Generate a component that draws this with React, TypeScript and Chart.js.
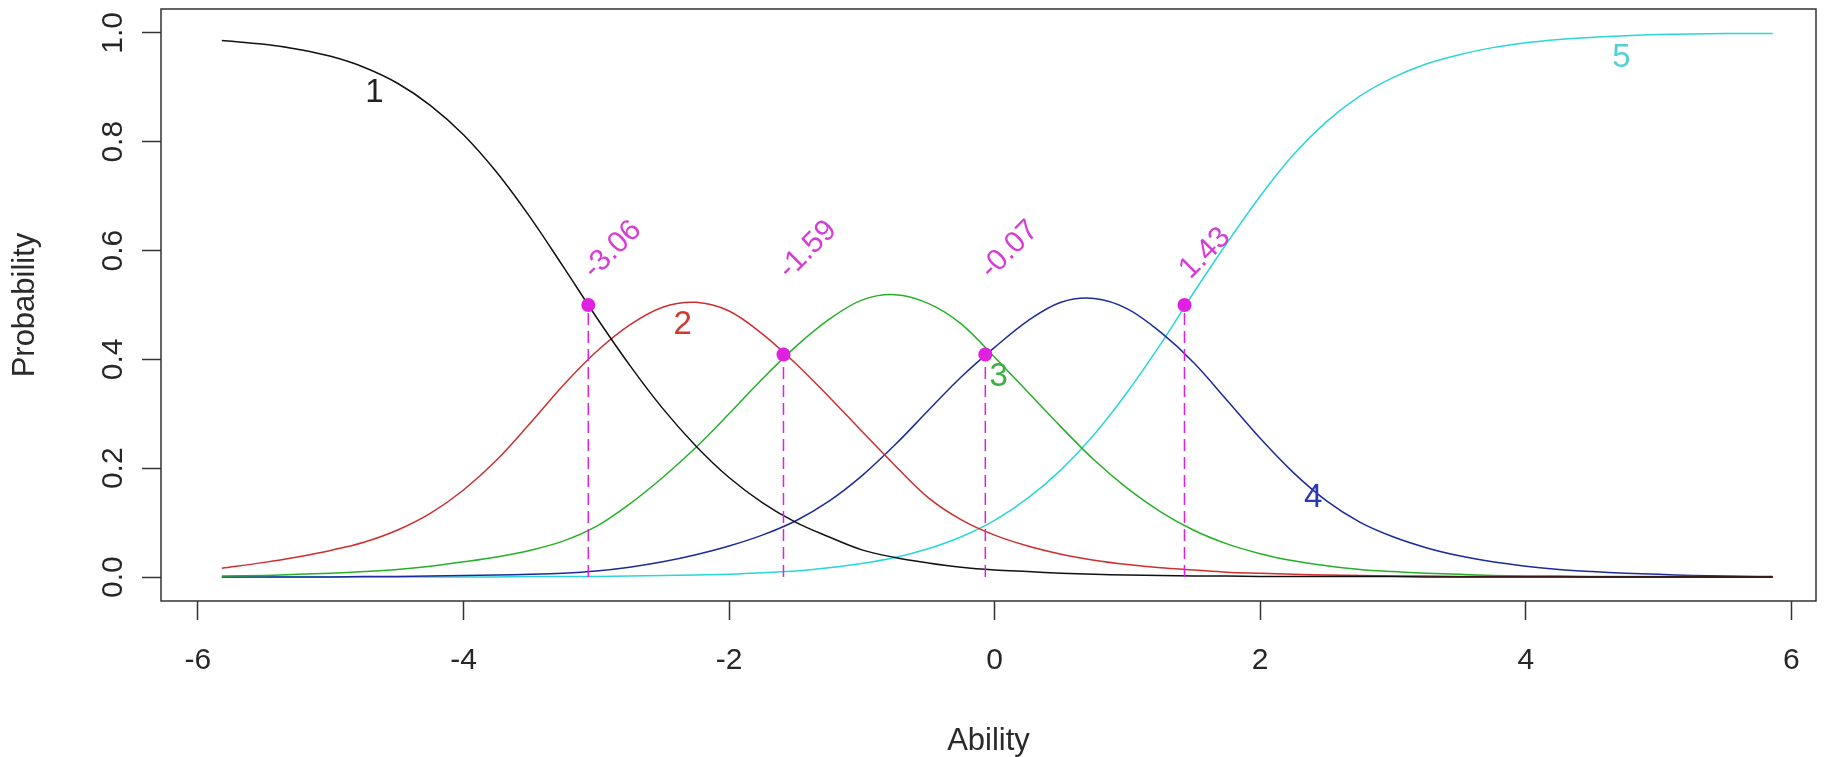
import React, { useEffect, useRef } from 'react';
import { Chart, registerables } from 'chart.js';

Chart.register(...registerables);

// Ability grid (x values)
const theta = [
  -5.82, -5.5, -5.25, -5.0, -4.75, -4.5, -4.25, -4.0, -3.75, -3.5, -3.25, -3.0,
  -2.75, -2.5, -2.25, -2.0, -1.75, -1.5, -1.25, -1.0, -0.75, -0.5, -0.25, 0,
  0.25, 0.5, 0.75, 1.0, 1.25, 1.5, 1.75, 2.0, 2.25, 2.5, 2.75, 3.0,
  3.25, 3.5, 3.75, 4.0, 4.25, 4.5, 4.75, 5.0, 5.25, 5.5, 5.75, 5.86,
];

// Category probability curves
const cat1 = [
  0.986, 0.979, 0.970, 0.957, 0.937, 0.908, 0.867, 0.813, 0.744, 0.662, 0.571, 0.478,
  0.390, 0.310, 0.241, 0.183, 0.137, 0.101, 0.074, 0.050, 0.036, 0.026, 0.018, 0.013,
  0.010, 0.007, 0.005, 0.004, 0.003, 0.002, 0.002, 0.001, 0.001, 0.001, 0.001, 0.001,
  0.000, 0.000, 0.000, 0.000, 0.000, 0.000, 0.000, 0.000, 0.000, 0.000, 0.000, 0.000,
];
const cat2 = [
  0.016, 0.027, 0.037, 0.049, 0.064, 0.086, 0.117, 0.160, 0.215, 0.282, 0.352, 0.414,
  0.463, 0.496, 0.505, 0.489, 0.447, 0.393, 0.332, 0.268, 0.205, 0.146, 0.105, 0.077,
  0.057, 0.042, 0.031, 0.023, 0.017, 0.013, 0.009, 0.007, 0.005, 0.004, 0.003, 0.002,
  0.002, 0.001, 0.001, 0.001, 0.001, 0.000, 0.000, 0.000, 0.000, 0.000, 0.000, 0.000,
];
const cat3 = [
  0.002, 0.003, 0.005, 0.007, 0.010, 0.014, 0.020, 0.028, 0.037, 0.049, 0.066, 0.093,
  0.134, 0.183, 0.238, 0.300, 0.364, 0.423, 0.473, 0.509, 0.519, 0.503, 0.465, 0.404,
  0.340, 0.276, 0.215, 0.163, 0.120, 0.086, 0.061, 0.043, 0.030, 0.021, 0.014, 0.010,
  0.007, 0.005, 0.003, 0.002, 0.002, 0.001, 0.001, 0.001, 0.001, 0.000, 0.000, 0.000,
];
const cat4 = [
  0.000, 0.000, 0.000, 0.000, 0.001, 0.001, 0.002, 0.003, 0.004, 0.005, 0.007, 0.011,
  0.018, 0.028, 0.041, 0.057, 0.077, 0.103, 0.139, 0.186, 0.243, 0.306, 0.368, 0.422,
  0.471, 0.505, 0.512, 0.493, 0.450, 0.394, 0.325, 0.255, 0.192, 0.140, 0.101, 0.074,
  0.054, 0.039, 0.028, 0.020, 0.014, 0.010, 0.007, 0.005, 0.003, 0.002, 0.001, 0.001,
];
const cat5 = [
  0.000, 0.000, 0.000, 0.000, 0.000, 0.000, 0.000, 0.000, 0.000, 0.001, 0.001, 0.001,
  0.002, 0.003, 0.004, 0.005, 0.008, 0.011, 0.017, 0.025, 0.036, 0.052, 0.074, 0.104,
  0.145, 0.197, 0.262, 0.340, 0.428, 0.523, 0.614, 0.700, 0.776, 0.837, 0.884, 0.918,
  0.943, 0.960, 0.973, 0.982, 0.988, 0.992, 0.995, 0.997, 0.998, 0.999, 0.999, 0.999,
];

// Thresholds marked in magenta
const thresholds = [-3.06, -1.59, -0.07, 1.43];
const thresholdProb = [0.5, 0.409, 0.409, 0.5];
const thresholdLabels = ['-3.06', '-1.59', '-0.07', '1.43'];

// Curve labels
const categoryLabels = ['1', '2', '3', '4', '5'];
const categoryLabelX = [-4.67, -2.35, 0.03, 2.4, 4.72];
const categoryLabelY = [0.89, 0.464, 0.367, 0.145, 0.954];

// Ticks
const xTicks = [-6, -4, -2, 0, 2, 4, 6];
const yTicks = [0, 0.2, 0.4, 0.6, 0.8, 1.0];

const lineColors = ['#111111', '#cc2f2f', '#25b025', '#1c2a9a', '#2ad6d6'];
const labelColors = ['#222222', '#cc3a30', '#3cb043', '#2a3ab0', '#55d0d0'];
const magenta = '#e020e0';
const FONT = '"Liberation Sans", Arial, sans-serif';
const THRESH_LABEL_LEVEL = 0.557;

const annotPlugin = {
  id: 'annot',
  afterDatasetsDraw(chart: any) {
    const { ctx, chartArea: a, scales } = chart;
    const x = scales.x;
    const y = scales.y;
    ctx.save();
    ctx.strokeStyle = '#333333';
    ctx.lineWidth = 1.5;
    ctx.strokeRect(a.left, a.top, a.right - a.left, a.bottom - a.top);

    ctx.font = `33px ${FONT}`;
    ctx.textAlign = 'center';
    ctx.textBaseline = 'middle';
    categoryLabels.forEach((t, i) => {
      ctx.fillStyle = labelColors[i];
      ctx.fillText(t, x.getPixelForValue(categoryLabelX[i]), y.getPixelForValue(categoryLabelY[i]));
    });

    ctx.font = `30px ${FONT}`;
    thresholds.forEach((b, i) => {
      ctx.save();
      ctx.translate(x.getPixelForValue(b), y.getPixelForValue(THRESH_LABEL_LEVEL));
      ctx.rotate(-Math.PI / 4);
      ctx.textAlign = 'left';
      ctx.textBaseline = 'middle';
      ctx.fillStyle = '#d63cd6';
      ctx.fillText(thresholdLabels[i], 0, 0);
      ctx.restore();
    });
    ctx.restore();
  },
};

export default function App() {
  const ref = useRef<HTMLCanvasElement | null>(null);

  useEffect(() => {
    if (!ref.current) return;
    Chart.defaults.font.family = FONT;
    const cats = [cat1, cat2, cat3, cat4, cat5];
    const curveSets = cats.map((vals, i) => ({
      type: 'line' as const,
      label: categoryLabels[i],
      data: theta.map((t, j) => ({ x: t, y: vals[j] })),
      borderColor: lineColors[i],
      borderWidth: 1.5,
      pointRadius: 0,
      tension: 0.35,
      fill: false,
      order: 2 + i,
    }));
    const dashSets = thresholds.map((b, i) => ({
      type: 'line' as const,
      label: 'thr' + i,
      data: [
        { x: b, y: 0 },
        { x: b, y: thresholdProb[i] },
      ],
      borderColor: magenta,
      borderWidth: 1.5,
      borderDash: [12, 6],
      pointRadius: 0,
      fill: false,
      order: 1,
    }));
    const dotSet = {
      type: 'line' as const,
      label: 'points',
      data: thresholds.map((b, i) => ({ x: b, y: thresholdProb[i] })),
      showLine: false,
      pointRadius: 7,
      pointBackgroundColor: magenta,
      pointBorderWidth: 0,
      borderColor: magenta,
      order: 0,
    };

    const chart = new Chart(ref.current, {
      type: 'line',
      data: { datasets: [...curveSets, ...dashSets, dotSet] as any },
      plugins: [annotPlugin],
      options: {
        animation: false,
        responsive: false,
        maintainAspectRatio: false,
        layout: { padding: { left: 0, top: 9, right: 25, bottom: 0 } },
        plugins: { legend: { display: false }, tooltip: { enabled: false }, title: { display: false } },
        scales: {
          x: {
            type: 'linear',
            min: -6.278,
            max: 6.186,
            afterBuildTicks: (s: any) => {
              s.ticks = xTicks.map((v) => ({ value: v }));
            },
            afterFit: (s: any) => {
              s.height = 156;
              s.paddingLeft = 0;
              s.paddingRight = 0;
            },
            grid: {
              drawOnChartArea: false,
              drawTicks: true,
              tickLength: 19,
              tickWidth: 1.5,
              tickColor: '#333333',
            },
            border: { display: false },
            ticks: {
              autoSkip: false,
              maxRotation: 0,
              minRotation: 0,
              padding: 26,
              color: '#262626',
              font: { size: 30, lineHeight: 1, family: FONT },
              callback: (v: any) => String(v),
            },
            title: {
              display: true,
              text: 'Ability',
              color: '#2a2a2a',
              font: { size: 31, lineHeight: 1, family: FONT },
              padding: { top: 0, bottom: 0 },
            },
          },
          y: {
            type: 'linear',
            min: -0.044,
            max: 1.044,
            afterBuildTicks: (s: any) => {
              s.ticks = yTicks.map((v) => ({ value: v }));
            },
            afterFit: (s: any) => {
              s.width = 161;
              s.paddingTop = 0;
              s.paddingBottom = 0;
            },
            grid: {
              drawOnChartArea: false,
              drawTicks: true,
              tickLength: 19,
              tickWidth: 1.5,
              tickColor: '#333333',
            },
            border: { display: false },
            ticks: {
              autoSkip: false,
              minRotation: 90,
              maxRotation: 90,
              crossAlign: 'center',
              padding: 7,
              color: '#262626',
              font: { size: 30, lineHeight: 1, family: FONT },
              callback: (v: any) => Number(v).toFixed(1),
            },
            title: {
              display: true,
              text: 'Probability',
              color: '#2a2a2a',
              font: { size: 31, lineHeight: 1, family: FONT },
              padding: { top: 10, bottom: 0 },
            },
          },
        },
      } as any,
    });
    return () => chart.destroy();
  }, []);

  return (
    <div style={{ position: 'fixed', left: 0, top: 0, width: 1841, height: 757, background: '#ffffff' }}>
      <canvas ref={ref} width={1841} height={757} style={{ width: 1841, height: 757, display: 'block' }} />
    </div>
  );
}
